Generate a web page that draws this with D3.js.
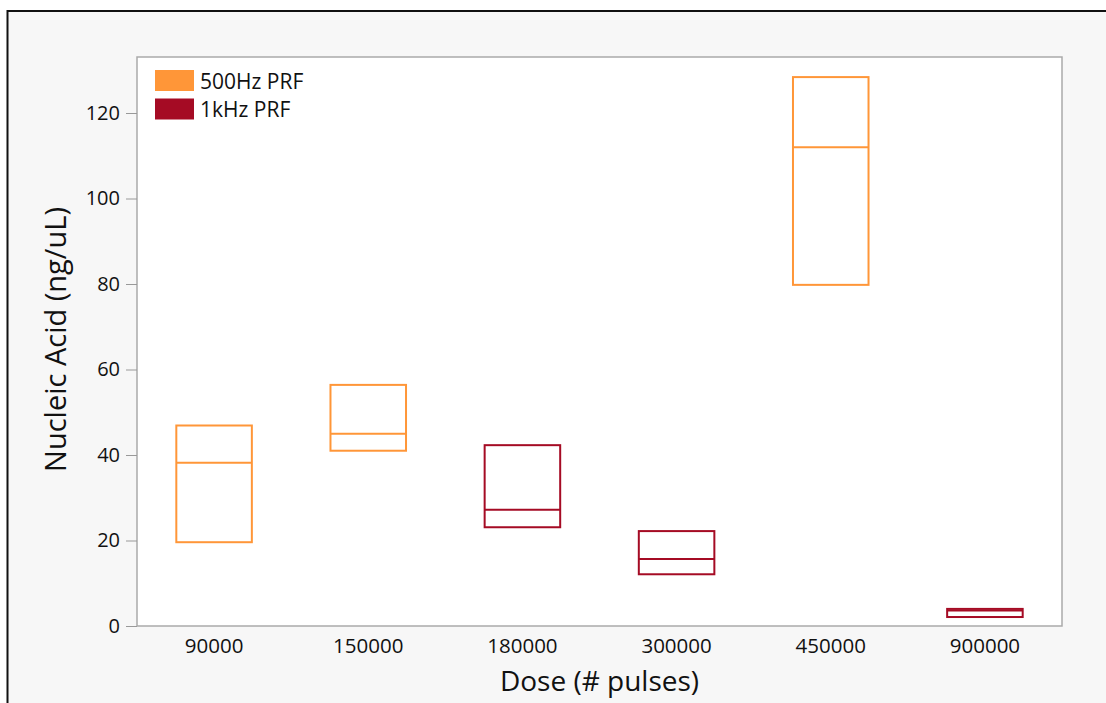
<!DOCTYPE html>
<html>
<head>
<meta charset="utf-8">
<script src="https://cdn.jsdelivr.net/npm/d3@7"></script>
<style>
  body { margin: 0; background: #fff; }
  svg text { font-family: "Open Sans", "Noto Sans", sans-serif; fill: #111; }
</style>
</head>
<body>
<div id="chart"></div>
<script>
// doses on the x axis
const doses = ['90000', '150000', '180000', '300000', '450000', '900000'];
// which PRF group each dose belongs to
const groups = ['500Hz PRF', '500Hz PRF', '1kHz PRF', '1kHz PRF', '500Hz PRF', '1kHz PRF'];
// box stats
const q1 = [19.6, 41.0, 23.1, 12.1, 79.8, 2.1];
const medians = [38.2, 45.0, 27.2, 15.7, 112.0, 3.6];
const q3 = [46.9, 56.4, 42.3, 22.2, 128.4, 4.0];
const yTicks = [0, 20, 40, 60, 80, 100, 120];
const legendLabels = ['500Hz PRF', '1kHz PRF'];

const colour = d3.scaleOrdinal()
  .domain(legendLabels)
  .range(['#ff9638', '#a50b24']);

const width = 1106;
const height = 703;
const margin = { top: 57, right: 44, bottom: 77, left: 137 };

const svg = d3.select('#chart').append('svg')
  .attr('width', width)
  .attr('height', height);

// page background + black frame (right/bottom edges run off the canvas)
svg.append('rect')
  .attr('x', 0).attr('y', 0).attr('width', width).attr('height', height)
  .attr('fill', '#ffffff');
svg.append('rect')
  .attr('x', 7.5).attr('y', 11).attr('width', width + 10).attr('height', height + 10)
  .attr('fill', '#f7f7f7')
  .attr('stroke', '#111')
  .attr('stroke-width', 2);

const innerW = width - margin.left - margin.right;
const innerH = height - margin.top - margin.bottom;

const chart = svg.append('g')
  .attr('transform', `translate(${margin.left},${margin.top})`);

const xScale = d3.scaleBand()
  .domain(doses)
  .range([0, innerW])
  .paddingInner(0.51)
  .paddingOuter(0.255);

const yScale = d3.scaleLinear()
  .domain([0, 133.1])
  .range([innerH, 0]);

// plot area
chart.append('rect')
  .attr('width', innerW)
  .attr('height', innerH)
  .attr('fill', '#fff')
  .attr('stroke', '#aaa')
  .attr('stroke-width', 1.5);

// y axis
const yAxisG = chart.append('g')
  .call(d3.axisLeft(yScale).tickValues(yTicks).tickSize(11).tickPadding(6))
  .call((g) => g.select('.domain').remove());
yAxisG.selectAll('.tick line').attr('stroke', '#999');
yAxisG.selectAll('.tick text').style('font-size', '20px').attr('fill', '#111');

// x axis
const xAxisG = chart.append('g')
  .attr('transform', `translate(0,${innerH})`)
  .call(d3.axisBottom(xScale).tickSize(0).tickPadding(12))
  .call((g) => g.select('.domain').remove());
xAxisG.selectAll('.tick text').style('font-size', '20.5px').attr('fill', '#111');

// boxes
const data = doses.map((d, i) => ({
  dose: d, group: groups[i], q1: q1[i], med: medians[i], q3: q3[i],
}));

const boxes = chart.selectAll('.box')
  .data(data)
  .join('g')
  .attr('class', 'box');

boxes.append('rect')
  .attr('x', (d) => xScale(d.dose))
  .attr('y', (d) => yScale(d.q3))
  .attr('width', xScale.bandwidth())
  .attr('height', (d) => yScale(d.q1) - yScale(d.q3))
  .attr('fill', 'none')
  .attr('stroke', (d) => colour(d.group))
  .attr('stroke-width', 2);

boxes.append('line')
  .attr('x1', (d) => xScale(d.dose))
  .attr('x2', (d) => xScale(d.dose) + xScale.bandwidth())
  .attr('y1', (d) => yScale(d.med))
  .attr('y2', (d) => yScale(d.med))
  .attr('stroke', (d) => colour(d.group))
  .attr('stroke-width', 2);

// legend
const legend = chart.append('g')
  .attr('transform', 'translate(18,13)');
const items = legend.selectAll('g')
  .data(legendLabels)
  .join('g')
  .attr('transform', (d, i) => `translate(0,${i * 28.5})`);
items.append('rect')
  .attr('width', 39).attr('height', 21)
  .attr('fill', (d) => colour(d));
items.append('text')
  .attr('x', 45).attr('y', 11).attr('dy', '0.36em')
  .style('font-size', '21px')
  .text((d) => d);

// axis titles
svg.append('text')
  .attr('x', margin.left + innerW / 2)
  .attr('y', 691)
  .attr('text-anchor', 'middle')
  .style('font-size', '28px')
  .text('Dose (# pulses)');

svg.append('text')
  .attr('transform', `translate(66,${margin.top + innerH / 2 - 2}) rotate(-90)`)
  .attr('text-anchor', 'middle')
  .style('font-size', '29px')
  .text('Nucleic Acid (ng/uL)');
</script>
</body>
</html>
